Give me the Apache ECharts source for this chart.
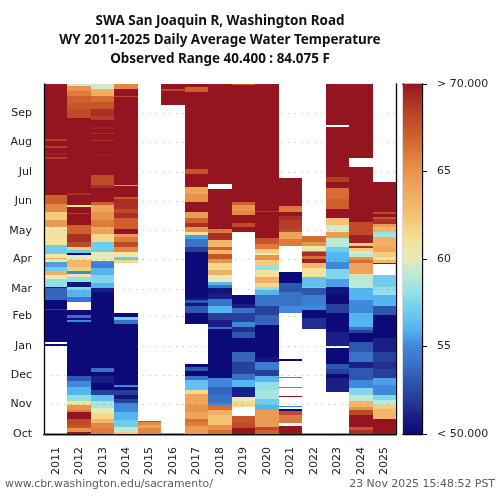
<!DOCTYPE html>
<html>
<head>
<meta charset="utf-8">
<style>html,body{margin:0;padding:0;background:#fff}#main{width:500px;height:500px}</style>
<script src="https://cdn.jsdelivr.net/npm/echarts@6/dist/echarts.min.js"></script>
</head>
<body>
<div id="main"></div>
<script>
// water years on the x axis
var years = ['2011','2012','2013','2014','2015','2016','2017','2018','2019','2020','2021','2022','2023','2024','2025'];
// day of water year where each month starts
var monthDays = [0,31,61,92,123,151,182,212,243,273,304,335];
var monthNames = ['Oct','Nov','Dec','Jan','Feb','Mar','Apr','May','Jun','Jul','Aug','Sep'];
var colorTicks = [50,55,60,65,70];

// each run is [first day, temperature F], it lasts until the next run. null = no data
var wy2011 = [[0,null],[92,50],[94,null],[95.5,50],[129,52],[130.5,50],[140,53.5],[152,51],[153.5,58],[162,60],[166,63.5],[169.5,57],[174,55.5],[179,60.5],[182.5,63.5],[184,60.5],[188,57],[197,61],[209,60.5],[216,64.5],[223,62],[232,65.5],[240,67],[249,70],[287,68.5],[289,70],[291,69.5],[293,70],[298,68.5],[300,70],[305.5,68.5],[307.5,70],[365,null]];
var wy2012 = [[0,70],[2.4,65],[6,67.5],[9.4,68],[16,70],[23,66],[25,65],[30,61],[34,58],[41,56],[49,55],[55,53],[60,50],[117,55],[119,50],[121,54],[124,50],[129,null],[138,54],[143,56],[150,57.5],[153,50.5],[158,58],[164,60.5],[167,55],[170,62],[174,63],[181,60],[187,50],[189,57],[192,62],[195,68],[200,69],[209,67],[218,70],[229,68.5],[230.5,70],[237,61],[239,70],[249.5,69],[251,70],[330,68],[339,67.5],[345,67],[352,66],[358,65],[363,59.5],[365,null]];
var wy2013 = [[0,66],[6,65.5],[11,63],[16,61.5],[21.5,60],[27,58.5],[34,56.5],[40.6,52],[46,50],[53,51],[60,50],[65,54],[68.5,50],[148,51],[152,56],[157,57.5],[166,56],[173,54.5],[177,55],[180,60],[190,57],[200,61.5],[209,64],[216,66],[223,65],[232,64],[239,67],[242,70],[257,69],[260,68],[270,70],[290.5,69.5],[291.5,70],[305.5,69],[307,70],[312.5,69],[314,70],[318.5,69.5],[320,70],[327,68.5],[332,69],[339,67.5],[346,66.5],[353,63.5],[360,59.5],[365,null]];
var wy2014 = [[0,62],[2.4,59],[7.6,57],[15,56],[23,55],[32,52],[37,50.5],[41,52],[46,50],[49,55],[51,50],[115,54],[119,57],[122,50],[126,null],[178,61.5],[181,57],[185,60.5],[190,65.5],[195,68],[200,66],[205,64.5],[209,70],[214,67],[225,69],[230,68],[235,69],[245.5,67.5],[247,70],[259,65],[260,70],[351,68],[352.5,70],[359.6,65.5],[365,null]];
var wy2015 = [[0,65.5],[6,64],[9,65.5],[13,54],[14,null],[365,null]];
var wy2016 = [[0,null],[343,70],[358,68],[360,70],[365,null]];
var wy2017 = [[0,64.5],[8,66],[13,66.5],[16,64],[23,65],[30,64],[42,61.5],[46,56.5],[56,54],[61,50],[66,53],[70,50],[72.6,null],[114.6,50],[126,53],[134,50.5],[137,53],[140,50.5],[143,50],[186,50],[190,52],[195,54],[203,55.5],[208,61],[211,65],[216,69],[220,67],[225,64.5],[232,70],[242,65],[250,64],[258,70],[271,67.5],[276,70],[357,67],[362,70],[365,null]];
var wy2018 = [[0,66.5],[4,65],[9,62.5],[20,63.5],[25,66.5],[30,55],[32,54],[40.6,53.5],[49,55],[58,50],[110,54],[112,51],[119,52],[126,56],[134,54],[141,51],[146,50.5],[152,54],[155,56],[159,60],[166,63.5],[171,61.5],[178,65],[183,67.5],[188,63],[192,67],[195,63],[202,69],[210,66],[214,70],[256,null],[261,70],[365,null]];
var wy2019 = [[0,70],[6,68],[11,67.5],[19,null],[28.5,61.5],[34,60],[39,51],[49,56],[56,54],[63,52],[75,53.5],[86,50],[100,53],[106,51.5],[112,55],[117,52],[126,54],[131,51],[136,50],[145,null],[210.6,70],[216,68],[220,70],[228,65.5],[233,65],[238.7,67],[242,70],[364,67],[365,null]];
var wy2020 = [[0,67],[4,68],[7.6,64.5],[25,56],[30,57],[37,58.5],[46,58],[54.5,56],[60,52],[67,54.5],[75,50.5],[80,50],[113.6,53.5],[124,52],[134,54],[145,56],[150,58],[153.5,61.5],[157,63.5],[164,61],[171,58],[176,62],[181,65],[186.5,60],[189,62],[193,66],[198,67.5],[204,70],[231,68.5],[233,70],[365,null]];
var wy2021 = [[0,70],[8,null],[11,66],[20,68],[24,50],[26,null],[28.5,55],[29.5,null],[38.5,70],[39.5,null],[47.5,50],[48.5,55],[49.5,null],[58.5,55],[59.5,null],[76,50],[78,null],[126,55],[134,54],[148,53],[157,50],[169,null],[196,66],[203,64],[211,68],[214,68.5],[223,69],[227,70],[232,66],[238,70],[267,null],[365,null]];
var wy2022 = [[0,null],[109.4,51.5],[120.5,50],[129,55],[134,54.5],[145,53],[152,57],[153.5,56.5],[164,61],[172.7,63],[178,69.5],[183,66.5],[186,69],[190,66],[191,60.5],[196,65],[200,66.5],[207,null],[365,null]];
var wy2023 = [[0,null],[43.8,51],[58,50],[63,52],[68,53],[73,50],[89.6,null],[91.7,51],[106.7,50],[126,52],[136,50],[145,50.5],[153.5,55.5],[162,57.5],[172,55],[179.6,56],[190,57],[195,59],[204,64.5],[211,60],[214,59.5],[218,62.5],[225,70],[235,67],[245,66.5],[257,70],[263,68.5],[268,70],[320,null],[322,70],[365,null]];
var wy2024 = [[0,69],[4,67.5],[7.6,70],[20,68],[25,65],[28.5,63],[34,59],[40.6,57.5],[47.6,55],[56,53],[68.4,51],[75,54],[86,53],[96,50],[105,52],[108,54],[112,56],[126,55],[140,56],[152,59],[166,61],[167,64],[178,66.5],[181,65],[185,59],[188,59.5],[191,62],[194,69],[196,62],[199,69.5],[208,68],[221,70],[278,null],[288,70],[365,null]];
var wy2025 = [[0,70],[16,63],[26,62],[30,59],[35,57.5],[40.6,55],[51,55.5],[58,52],[68,51.5],[75,52],[86,51],[100,50],[124,53],[134,56],[145,58],[153.5,57],[165.7,null],[177,70],[178.5,63],[181,60.5],[185,62],[190,64],[195,63.5],[205,58.5],[209,58],[211,63],[216,64.5],[219,69],[224.5,67.5],[226,70],[229.5,68],[231,70],[262.7,null],[365,null]];
var allYears = [wy2011,wy2012,wy2013,wy2014,wy2015,wy2016,wy2017,wy2018,wy2019,wy2020,wy2021,wy2022,wy2023,wy2024,wy2025];

// one colour per degree, 50 to 70
var tempColors = ['#0b0a78','#1a1f85','#27409a','#2e57ae','#3a72c8','#4088dc','#55b5ef','#6fcdec','#93dfe5','#bce9d6','#e6eab8','#f3e39a','#f4cc7e','#f2b868','#eda55b','#e8934c','#dd7a3c','#cf5f2c','#bf4a28','#aa2f24','#941520'];

var cells = [];
allYears.forEach(function (runs, idx) {
  for (var i = 0; i < runs.length - 1; i++) {
    if (runs[i][1] !== null) cells.push([idx, runs[i][0], runs[i + 1][0], runs[i][1]]);
  }
});

// colour bar strip, one cell per 0.1 F
var barCells = [];
for (var t = 500; t < 700; t++) barCells.push([0, t / 10, (t + 1) / 10, t / 10]);

var labelFont = 'DejaVu Sans';
var chart = echarts.init(document.getElementById('main'), null, { renderer: 'canvas' });

function drawCell(params, api) {
  var a = api.coord([api.value(0), api.value(1)]);
  var b = api.coord([api.value(0), api.value(2)]);
  var w = api.size([1, 0])[0];
  var x0 = Math.round(a[0] - w / 2), x1 = Math.round(a[0] + w / 2);
  var y0 = Math.round(b[1]), y1 = Math.round(a[1]);
  return {
    type: 'rect',
    shape: { x: x0, y: y0, width: x1 - x0, height: Math.max(y1 - y0, 1) },
    style: { fill: api.visual('color') }
  };
}

var frameLine = { show: true, lineStyle: { color: '#000', width: 1.3 } };

chart.setOption({
  animation: false,
  backgroundColor: '#fff',
  graphic: [{
    type: 'text', x: 220, y: 11, scaleX: 0.9415,
    style: {
      text: 'SWA San Joaquin R, Washington Road\nWY 2011-2025 Daily Average Water Temperature\nObserved Range 40.400 : 84.075 F',
      textAlign: 'center', fontFamily: 'Noto Sans', fontWeight: 'bold', fontSize: 14.3, lineHeight: 19, fill: '#111'
    }
  }],
  title: [
    {
      text: 'www.cbr.washington.edu/sacramento/',
      left: 5, top: 479, padding: 0,
      textStyle: { fontFamily: labelFont, fontWeight: 'normal', fontSize: 10.9, color: '#555d66' }
    },
    {
      text: '23 Nov 2025 15:48:52 PST',
      right: 5, top: 479, padding: 0,
      textStyle: { fontFamily: labelFont, fontWeight: 'normal', fontSize: 10.9, color: '#555d66' }
    }
  ],
  visualMap: {
    show: false, type: 'continuous', min: 50, max: 70, dimension: 3, seriesIndex: [0, 1],
    inRange: { color: tempColors }
  },
  grid: [
    { left: 44, top: 84, width: 352, height: 350 },
    { left: 403, top: 84, width: 19, height: 350 }
  ],
  xAxis: [
    {
      type: 'category', gridIndex: 0, data: years, boundaryGap: true,
      axisLine: frameLine,
      axisTick: { alignWithLabel: true, length: 5, lineStyle: { color: '#000' } },
      axisLabel: { rotate: 90, fontFamily: labelFont, fontSize: 11, color: '#222', margin: 13, interval: 0 },
      splitLine: { show: false }
    },
    {
      type: 'category', gridIndex: 0, position: 'top', data: years,
      axisLine: frameLine, axisTick: { show: false }, axisLabel: { show: false }, splitLine: { show: false }
    },
    {
      type: 'category', gridIndex: 1, data: ['bar'],
      axisLine: frameLine, axisTick: { show: false }, axisLabel: { show: false }, splitLine: { show: false }
    },
    {
      type: 'category', gridIndex: 1, position: 'top', data: ['bar'],
      axisLine: frameLine, axisTick: { show: false }, axisLabel: { show: false }, splitLine: { show: false }
    }
  ],
  yAxis: [
    {
      type: 'value', gridIndex: 0, min: 0, max: 365, z: 5,
      axisLine: frameLine,
      axisTick: { customValues: monthDays, length: 5, lineStyle: { color: '#000' } },
      axisLabel: {
        customValues: monthDays, fontFamily: labelFont, fontSize: 11, color: '#222', margin: 12,
        formatter: function (v) { return monthNames[monthDays.indexOf(v)]; }
      },
      splitLine: { show: true, lineStyle: { type: [1.3, 5.3], color: 'rgba(60,60,60,0.3)', width: 1 } }
    },
    {
      type: 'value', gridIndex: 0, position: 'right', min: 0, max: 365,
      axisLine: frameLine, axisTick: { show: false }, axisLabel: { show: false }, splitLine: { show: false }
    },
    {
      type: 'value', gridIndex: 1, position: 'right', min: 50, max: 70, interval: 5,
      axisLine: frameLine,
      axisTick: { show: true, length: 5, lineStyle: { color: '#000' } },
      axisLabel: {
        fontFamily: labelFont, fontSize: 11, color: '#222', margin: 15,
        formatter: function (v) {
          if (v === colorTicks[0]) return '< 50.000';
          if (v === colorTicks[4]) return '> 70.000';
          return String(v);
        }
      },
      splitLine: { show: false }
    },
    {
      type: 'value', gridIndex: 1, position: 'left', min: 50, max: 70,
      axisLine: frameLine, axisTick: { show: false }, axisLabel: { show: false }, splitLine: { show: false }
    }
  ],
  series: [
    {
      type: 'custom', xAxisIndex: 0, yAxisIndex: 0, data: cells, renderItem: drawCell, clip: true,
      encode: { x: 0, y: [1, 2] }
    },
    {
      type: 'custom', xAxisIndex: 2, yAxisIndex: 2, data: barCells, renderItem: drawCell, clip: true,
      encode: { x: 0, y: [1, 2] }
    }
  ]
});
</script>
</body>
</html>
